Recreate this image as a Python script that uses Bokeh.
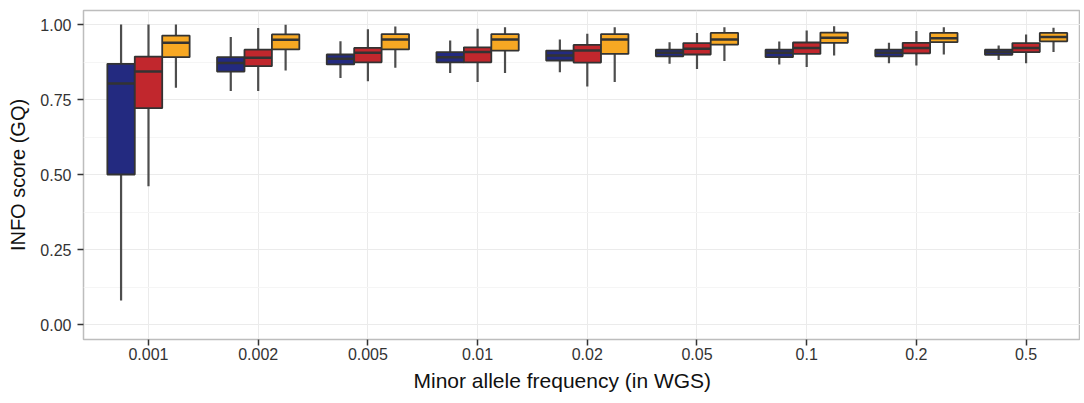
from bokeh.plotting import figure
from bokeh.models import FixedTicker, Range1d, Title
from bokeh.embed import file_html
from bokeh.resources import INLINE

# ---- data ----
categories = ["0.001", "0.002", "0.005", "0.01", "0.02", "0.05", "0.1", "0.2", "0.5"]

# series 1 (blue)
s1_low = [0.080, 0.778, 0.822, 0.838, 0.841, 0.869, 0.867, 0.871, 0.882]
s1_q1  = [0.500, 0.843, 0.867, 0.874, 0.880, 0.894, 0.891, 0.894, 0.899]
s1_med = [0.803, 0.872, 0.886, 0.891, 0.897, 0.906, 0.906, 0.906, 0.908]
s1_q3  = [0.869, 0.891, 0.900, 0.908, 0.913, 0.916, 0.916, 0.916, 0.916]
s1_high = [1.000, 0.958, 0.944, 0.947, 0.950, 0.941, 0.943, 0.939, 0.930]

# series 2 (red)
s2_low = [0.461, 0.778, 0.811, 0.808, 0.793, 0.852, 0.858, 0.863, 0.871]
s2_q1  = [0.721, 0.861, 0.874, 0.874, 0.873, 0.900, 0.902, 0.904, 0.908]
s2_med = [0.843, 0.889, 0.906, 0.908, 0.913, 0.919, 0.922, 0.922, 0.922]
s2_q3  = [0.893, 0.916, 0.922, 0.924, 0.932, 0.938, 0.940, 0.939, 0.938]
s2_high = [1.000, 0.988, 0.984, 0.986, 0.969, 0.972, 0.980, 0.978, 0.967]

# series 3 (orange)
s3_low = [0.789, 0.847, 0.856, 0.838, 0.808, 0.878, 0.897, 0.900, 0.908]
s3_q1  = [0.891, 0.917, 0.917, 0.913, 0.902, 0.933, 0.939, 0.941, 0.944]
s3_med = [0.939, 0.949, 0.950, 0.950, 0.950, 0.950, 0.956, 0.954, 0.958]
s3_q3  = [0.963, 0.967, 0.968, 0.968, 0.968, 0.972, 0.973, 0.972, 0.972]
s3_high = [1.000, 0.999, 0.993, 0.991, 0.991, 0.991, 0.994, 0.991, 0.989]

y_ticks = [0.0, 0.25, 0.5, 0.75, 1.0]
y_minor = [0.125, 0.375, 0.625, 0.875]

colors = ["#232a80", "#c1272d", "#f7a823"]
offsets = [-0.25, 0.0, 0.25]
box_w = 0.25

p = figure(width=1080, height=400, output_backend="svg", toolbar_location=None,
           x_range=Range1d(0.4075, 9.496), y_range=Range1d(-0.05, 1.0467),
           min_border_left=83, min_border_right=0, min_border_top=10, min_border_bottom=61)

p.background_fill_color = "white"
p.border_fill_color = "white"
p.outline_line_color = "#bdbdbd"
p.outline_line_width = 1.5

xs_base = list(range(1, len(categories) + 1))
p.xaxis.ticker = FixedTicker(ticks=xs_base)
p.xaxis.major_label_overrides = {i + 1: c for i, c in enumerate(categories)}
p.yaxis.ticker = FixedTicker(ticks=y_ticks, minor_ticks=y_minor)
p.yaxis.major_label_overrides = {t: f"{t:.2f}" for t in y_ticks}

p.xgrid.grid_line_color = "#ebebeb"
p.ygrid.grid_line_color = "#ebebeb"
p.ygrid.minor_grid_line_color = "#f5f5f5"
p.xgrid.grid_line_width = 1
p.ygrid.grid_line_width = 1

series = [
    (s1_low, s1_q1, s1_med, s1_q3, s1_high),
    (s2_low, s2_q1, s2_med, s2_q3, s2_high),
    (s3_low, s3_q1, s3_med, s3_q3, s3_high),
]

for (low, q1, med, q3, high), col, off in zip(series, colors, offsets):
    xs = [b + off for b in xs_base]
    p.segment(x0=xs, y0=low, x1=xs, y1=q1, line_color="#4d4d4d", line_width=2.2)
    p.segment(x0=xs, y0=q3, x1=xs, y1=high, line_color="#4d4d4d", line_width=2.2)
    p.vbar(x=xs, width=box_w, bottom=q1, top=q3, fill_color=col,
           line_color="#333333", line_width=1.8)
    p.segment(x0=[x - box_w / 2 for x in xs], y0=med, x1=[x + box_w / 2 for x in xs], y1=med,
              line_color="#333333", line_width=2.5)

for ax in (p.xaxis, p.yaxis):
    ax.axis_line_color = None
    ax.major_tick_line_color = "#333333"
    ax.major_tick_line_width = 1.5
    ax.major_tick_out = 6
    ax.major_tick_in = 0
    ax.minor_tick_line_color = None
    ax.major_label_text_font = "Liberation Sans"
    ax.major_label_text_font_size = "16px"
    ax.major_label_text_color = "#333333"
    ax.axis_label_text_font = "Liberation Sans"
    ax.axis_label_text_font_size = "20px"
    ax.axis_label_text_font_style = "normal"
    ax.axis_label_text_color = "#111111"

p.yaxis.axis_label = "INFO score (GQ)"
p.xaxis.major_label_standoff = 2
p.yaxis.major_label_standoff = 6
p.yaxis.axis_label_standoff = 8

xtitle = Title(text="Minor allele frequency (in WGS)", align="left", offset=330,
               text_font="Liberation Sans", text_font_size="21px",
               text_font_style="normal", text_color="#111111", standoff=8)
p.add_layout(xtitle, "below")

open("out.html", "w").write(file_html(p, INLINE))
